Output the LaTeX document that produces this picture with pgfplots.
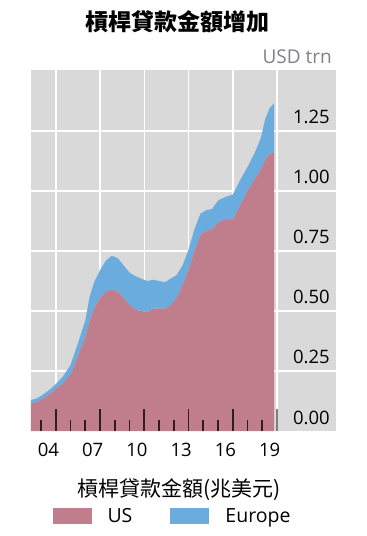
\documentclass[border=0pt]{standalone}
\usepackage{pgfplots}
\pgfplotsset{compat=1.18}
\usepackage{fontspec}
\setmainfont{Open Sans}
\newfontfamily\cjk{Noto Sans CJK TC}
\definecolor{usc}{RGB}{192,126,140}
\definecolor{euc}{RGB}{106,172,222}
\definecolor{bgc}{RGB}{217,217,217}
\definecolor{tickc}{RGB}{45,30,30}
\definecolor{unitc}{RGB}{128,128,140}
\begin{document}
\begin{tikzpicture}
\begin{axis}[
  name=main,
  scale only axis, width=305pt, height=361pt,
  xmin=2003.32, xmax=2024, ymin=0, ymax=1.504,
  axis background/.style={fill=bgc},
  axis line style={draw=none},
  stack plots=y,
  xtick={2005,2008,2011,2014,2017,2020}, xticklabels={},
  xtick pos=lower, ytick pos=right,
  tick align=inside,
  major tick length=0pt,
  xmajorgrids, ymajorgrids,
  grid style={white, line width=1.5pt},
  ytick={0.25,0.5,0.75,1,1.25},
  yticklabels={0.25,0.50,0.75,1.00,1.25},
  extra y ticks={0}, extra y tick labels={0.00}, extra y tick style={grid=none},
  yticklabel pos=right,
  yticklabel style={anchor=base east, inner sep=0pt, xshift=-6pt, yshift=7pt, font=\fontsize{18.5}{20}\selectfont, text=black},
  extra x ticks={2020}, extra x tick labels={},
  extra x tick style={grid=none, major tick length=22pt, tick style={gray, line width=2.2pt}},
  legend style={at={(0.464,-0.2355)}, anchor=center, draw=none, fill=none,
    font=\fontsize{19.5}{21}\selectfont,
    /tikz/every odd column/.append style={column sep=14pt},
    /tikz/every even column/.append style={column sep=36pt}},
  legend columns=2,
  legend image code/.code={\fill[#1] (0pt,-8pt) rectangle (39pt,8pt);},
]
\addplot[fill=usc, draw=none] coordinates {
(2003.32,0.115) (2003.6,0.118) (2004.0,0.130) (2004.5,0.150) (2005.0,0.175)
(2005.5,0.200) (2006.0,0.235) (2006.5,0.310) (2007.0,0.390) (2007.3,0.460)
(2007.6,0.510) (2008.0,0.555) (2008.4,0.580) (2008.8,0.590) (2009.2,0.580)
(2009.6,0.555) (2010.0,0.525) (2010.4,0.505) (2010.8,0.500) (2011.2,0.495)
(2011.6,0.510) (2012.0,0.510) (2012.4,0.510) (2012.8,0.525) (2013.2,0.555)
(2013.6,0.610) (2014.0,0.670) (2014.4,0.750) (2014.8,0.815) (2015.2,0.835)
(2015.6,0.840) (2016.0,0.870) (2016.5,0.880) (2017.0,0.880) (2017.5,0.940)
(2018.0,1.000) (2018.5,1.050) (2018.9,1.090) (2019.2,1.130) (2019.5,1.155)
(2019.8,1.160)
} \closedcycle;
\addlegendentry{US}
\addplot[fill=euc, draw=none] coordinates {
(2003.32,0.015) (2003.6,0.015) (2004.0,0.016) (2004.5,0.018) (2005.0,0.020)
(2005.5,0.028) (2006.0,0.040) (2006.5,0.055) (2007.0,0.070) (2007.3,0.100)
(2007.6,0.110) (2008.0,0.115) (2008.4,0.130) (2008.8,0.140) (2009.2,0.140)
(2009.6,0.135) (2010.0,0.135) (2010.4,0.140) (2010.8,0.135) (2011.2,0.130)
(2011.6,0.120) (2012.0,0.115) (2012.4,0.110) (2012.8,0.110) (2013.2,0.095)
(2013.6,0.080) (2014.0,0.085) (2014.4,0.090) (2014.8,0.090) (2015.2,0.085)
(2015.6,0.085) (2016.0,0.090) (2016.5,0.095) (2017.0,0.105) (2017.5,0.105)
(2018.0,0.100) (2018.5,0.110) (2018.9,0.130) (2019.2,0.170) (2019.5,0.190)
(2019.8,0.205)
} \closedcycle;
\addlegendentry{Europe}
\end{axis}
\begin{axis}[
  scale only axis, width=305pt, height=361pt,
  at={(main.south west)}, anchor=south west,
  xmin=2003.32, xmax=2024, ymin=0, ymax=1.504,
  axis line style={draw=none},
  ytick=\empty,
  xtick={2004.5,2007.5,2010.5,2013.5,2016.5,2019.5},
  xticklabels={04,07,10,13,16,19},
  xtick pos=lower, tick align=inside,
  major tick length=0pt,
  minor xtick={2004,2006,2007,2009,2010,2012,2013,2015,2016,2018,2019},
  minor tick length=11pt,
  extra x ticks={2005,2008,2011,2014,2017}, extra x tick labels={},
  extra x tick style={major tick length=22pt},
  tick style={tickc, line width=1.8pt},
  xticklabel style={anchor=base, yshift=-25pt, font=\fontsize{18.5}{20}\selectfont},
]
\end{axis}
\node[anchor=center, font=\cjk\bfseries\fontsize{23}{25}\selectfont] at ([shift={(147pt,409pt)}]main.south west) {槓桿貸款金額增加};
\node[anchor=base east, text=unitc, font=\fontsize{19}{21}\selectfont, inner sep=0pt] at ([shift={(301pt,367pt)}]main.south west) {USD trn};
\node[anchor=center, font=\cjk\fontsize{21}{23}\selectfont] at ([shift={(148pt,-59pt)}]main.south west) {槓桿貸款金額(兆美元)};
\path ([shift={(-31pt,-105pt)}]main.south west) rectangle ++(367pt,536pt);
\end{tikzpicture}
\end{document}
